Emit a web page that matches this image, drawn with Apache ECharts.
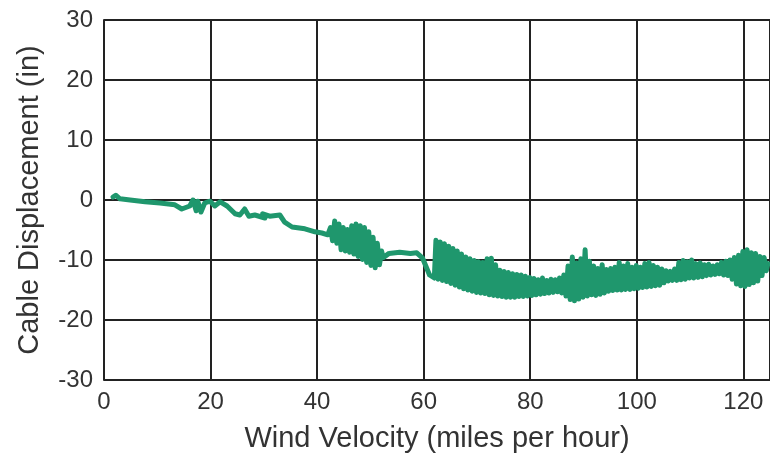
<!DOCTYPE html>
<html>
<head>
<meta charset="utf-8">
<script src="https://cdn.jsdelivr.net/npm/echarts@6/dist/echarts.min.js"></script>
<style>
html,body{margin:0;padding:0;background:#fff;}
#chart{width:770px;height:463px;}
</style>
</head>
<body>
<div id="chart"></div>
<script>
// Wind velocity (mph) samples along the recorded trace
var windVelocity = [
  1.7, 2.2, 3.0, 4.9, 7.7, 10.5, 13.3, 14.6, 16.1, 16.7, 17.3, 17.6, 18.2, 18.9, 19.9, 20.8, 21.8, 23.1, 24.6, 25.5,
  26.4, 27.2, 28.3, 30.2, 29.8, 31.1, 33.0, 33.9, 35.3, 37.7, 39.6, 40.9, 42.0,
  42.5, 42.9, 43.3, 43.7, 44.1, 44.5, 44.9, 45.3, 45.7, 46.1, 46.5, 46.9, 47.3, 47.7, 48.1, 48.5, 48.9, 49.3, 49.7,
  50.1, 50.5, 50.9, 51.3, 51.7, 52.1, 52.4,
  53.5, 55.5, 57.5, 58.7, 59.8, 60.4, 61.1, 62.0,
  62.3, 62.7, 63.1, 63.5, 63.9, 64.3, 64.7, 65.1, 65.5, 65.9, 66.3, 66.7, 67.1, 67.5, 67.9, 68.3, 68.7, 69.1, 69.5,
  69.9, 70.3, 70.7, 71.1, 71.5, 71.9, 72.3, 72.7, 73.1, 73.5, 73.9, 74.3, 74.7, 75.1, 75.5, 75.9, 76.3, 76.7, 77.1,
  77.5, 77.9, 78.3, 78.7, 79.1, 79.5, 79.9, 80.3,
  80.7, 81.1, 81.5, 81.9, 82.3, 82.7, 83.1, 83.5, 83.9, 84.3, 84.7, 85.1, 85.5, 85.9, 86.3, 86.7, 87.1, 87.5, 87.9,
  88.3, 88.7, 89.1, 89.5, 89.9, 90.3, 90.7, 91.1, 91.5, 91.9, 92.3, 92.7, 93.1, 93.5, 93.9, 94.3, 94.7, 95.1, 95.5,
  95.9, 96.3, 96.7, 97.1, 97.5, 97.9, 98.3, 98.7, 99.1, 99.5, 99.9, 100.3, 100.7, 101.1, 101.5, 101.9, 102.3, 102.7,
  103.1, 103.5, 103.9, 104.3, 104.7, 105.1, 105.5, 105.9, 106.3, 106.7, 107.1, 107.5, 107.9, 108.3, 108.7, 109.1,
  109.5, 109.9, 110.3, 110.7, 111.1, 111.5, 111.9, 112.3, 112.7, 113.1, 113.5, 113.9, 114.3, 114.7, 115.1, 115.5,
  115.9, 116.3, 116.7, 117.1, 117.5, 117.9, 118.3, 118.7, 119.1, 119.5, 119.9, 120.3, 120.7, 121.1, 121.5, 121.9,
  122.3, 122.7, 123.1, 123.5, 123.9, 124.3, 124.6
];
// Cable displacement (in) at each sample
var displacement = [
  0.5, 0.8, 0.2, 0.0, -0.3, -0.5, -0.8, -1.5, -1.0, 0.0, -1.8, -0.2, -2.0, -0.5, -0.2, -1.0, -0.3, -1.0, -2.3, -2.5,
  -1.5, -2.7, -2.5, -3.0, -2.3, -2.7, -2.5, -3.7, -4.5, -4.8, -5.3, -5.5, -5.8,
  -4.6, -6.8, -3.5, -7.2, -4.0, -8.3, -4.6, -8.5, -4.9, -8.7, -4.3, -9.0, -4.0, -9.4, -4.3, -9.9, -4.6, -10.4, -5.3,
  -10.9, -6.2, -11.3, -7.2, -10.8, -8.5, -9.6,
  -8.9, -8.7, -8.9, -8.8, -9.7, -11.0, -12.5, -13.0,
  -6.7, -13.2, -7.0, -13.4, -7.3, -13.6, -7.7, -13.9, -8.1, -14.2, -8.5, -14.5, -9.0, -14.8, -9.5, -15.0, -9.8, -15.2, -10.1,
  -15.4, -10.3, -15.5, -10.4, -15.6, -9.8, -15.8, -9.7, -15.9, -10.8, -16.0, -11.7, -16.1, -11.9, -16.2, -12.1, -16.2, -12.3, -16.2,
  -12.4, -16.1, -12.5, -16.1, -12.7, -16.0, -12.9, -15.9,
  -13.1, -15.8, -13.3, -15.7, -13.0, -15.6, -13.4, -15.5, -13.2, -15.4, -13.3, -15.3, -13.0, -15.5, -12.5, -16.0, -11.0, -16.6, -9.5,
  -16.8, -10.5, -16.5, -9.8, -16.2, -8.3, -16.0, -10.2, -15.8, -11.0, -15.9, -11.4, -15.7, -10.8, -15.5, -11.6, -15.2, -11.4, -15.1,
  -11.2, -15.0, -10.4, -15.0, -11.0, -14.9, -10.6, -14.9, -11.2, -14.8, -10.9, -14.7, -11.2, -14.6, -10.6, -14.5, -10.4, -14.4,
  -10.9, -14.3, -11.2, -14.2, -11.5, -13.8, -11.8, -13.5, -11.9, -13.4, -11.5, -13.4, -10.4, -13.3, -10.1, -13.2,
  -10.3, -13.0, -10.0, -13.0, -10.6, -12.9, -10.5, -12.8, -10.8, -12.6, -10.7, -12.5, -11.0, -12.4, -10.8, -12.3,
  -10.4, -12.5, -10.2, -12.6, -10.0, -13.2, -9.6, -14.0, -9.2, -14.3, -8.6, -14.4, -8.3, -14.1, -8.8, -13.8,
  -8.9, -13.5, -9.4, -12.6, -9.6, -11.8, -10.6
];
var xTicks = [0, 20, 40, 60, 80, 100, 120];
var yTicks = [-30, -20, -10, 0, 10, 20, 30];
var xTitle = 'Wind Velocity (miles per hour)';
var yTitle = 'Cable Displacement (in)';

var points = windVelocity.map(function (x, i) { return [x, displacement[i]]; });

var FONT = '"Liberation Sans", Arial, sans-serif';
var GREEN = '#1f976d';
var chart = echarts.init(document.getElementById('chart'), null, {renderer: 'canvas'});
chart.setOption({
  animation: false,
  backgroundColor: '#ffffff',
  grid: {left: 104, right: -2, top: 20, bottom: 83, containLabel: false},
  xAxis: {
    type: 'value',
    min: xTicks[0], max: 125, interval: xTicks[1] - xTicks[0],
    name: xTitle, nameLocation: 'middle', nameGap: 44,
    nameTextStyle: {fontFamily: FONT, fontSize: 29, color: '#333'},
    axisLine: {show: true, lineStyle: {color: '#222', width: 2}},
    axisTick: {show: false},
    axisLabel: {
      fontFamily: FONT, fontSize: 24, color: '#333', margin: 10, showMaxLabel: false,
      formatter: function (v) { return xTicks.indexOf(v) >= 0 ? String(v) : ''; }
    },
    splitLine: {show: true, lineStyle: {color: '#222', width: 2}}
  },
  yAxis: {
    type: 'value',
    min: yTicks[0], max: yTicks[yTicks.length - 1], interval: yTicks[1] - yTicks[0],
    name: yTitle, nameLocation: 'middle', nameGap: 60,
    nameTextStyle: {fontFamily: FONT, fontSize: 29, color: '#333'},
    axisLine: {show: true, onZero: false, lineStyle: {color: '#222', width: 2}},
    axisTick: {show: false},
    axisLabel: {fontFamily: FONT, fontSize: 24, color: '#333', margin: 11},
    splitLine: {show: true, lineStyle: {color: '#222', width: 2}}
  },
  series: [{
    type: 'line',
    data: points,
    showSymbol: false,
    symbol: 'none',
    sampling: null,
    lineStyle: {color: GREEN, width: 5, join: 'round', cap: 'round'},
    itemStyle: {color: GREEN},
    z: 3
  }]
});
</script>
</body>
</html>
